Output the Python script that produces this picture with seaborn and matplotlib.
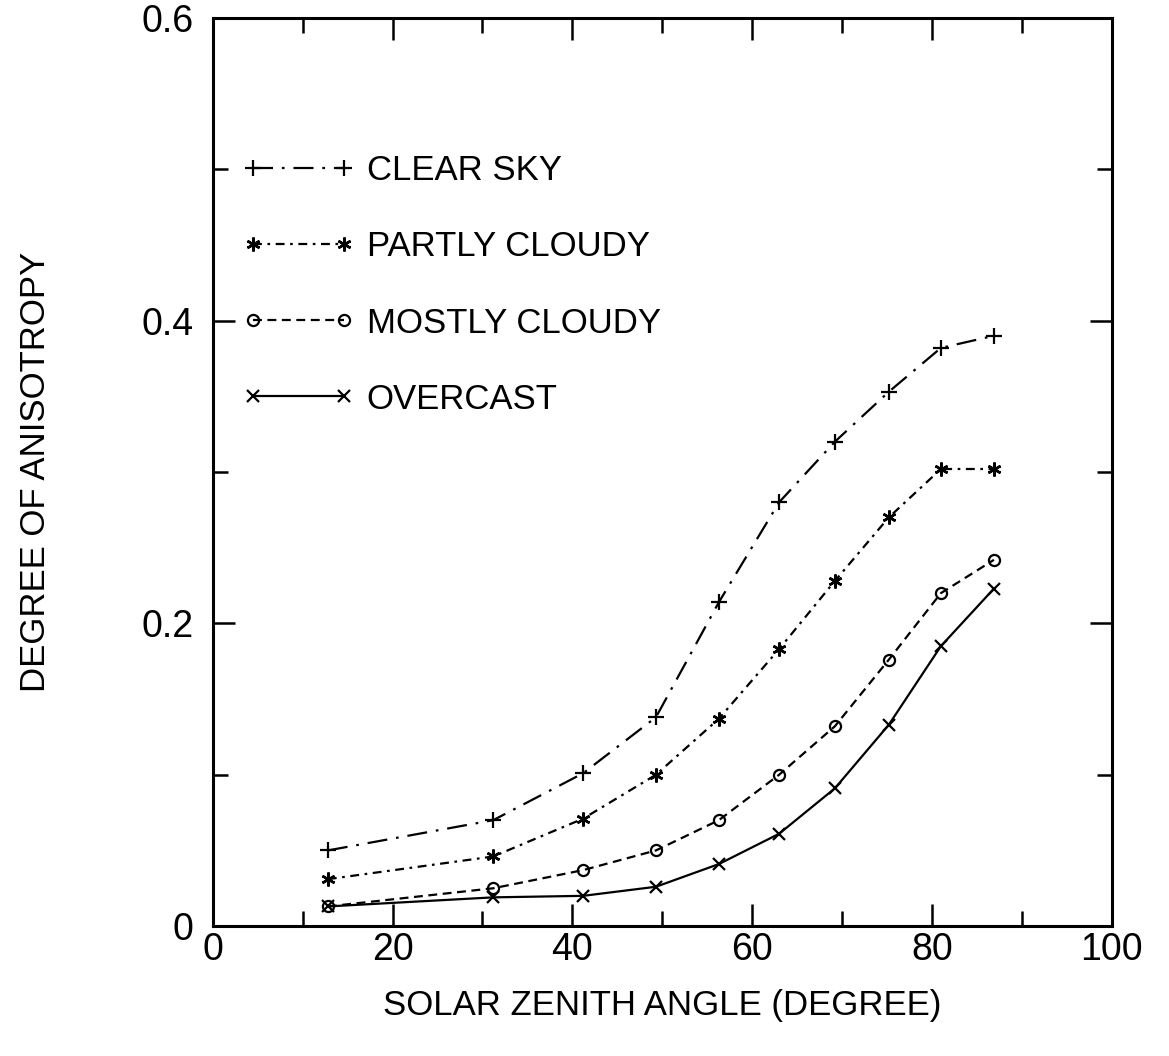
import matplotlib
matplotlib.use("Agg")
import matplotlib.pyplot as plt
from matplotlib.ticker import MultipleLocator
import numpy as np
import pandas as pd
import seaborn as sns

# Solar zenith angle (degrees)
zenith = [12.8, 31.2, 41.2, 49.3, 56.3, 63.0, 69.2, 75.2, 81.0, 86.9]

# Degree of anisotropy for each sky condition
clear_sky = [0.050, 0.070, 0.101, 0.138, 0.214, 0.280, 0.320, 0.353, 0.382, 0.390]
partly_cloudy = [0.031, 0.046, 0.071, 0.100, 0.137, 0.183, 0.228, 0.270, 0.302, 0.302]
mostly_cloudy = [0.013, 0.025, 0.037, 0.050, 0.070, 0.100, 0.132, 0.176, 0.220, 0.242]
overcast = [0.013, 0.019, 0.020, 0.026, 0.041, 0.061, 0.091, 0.133, 0.185, 0.223]

conditions = ["CLEAR SKY", "PARTLY CLOUDY", "MOSTLY CLOUDY", "OVERCAST"]
series = [clear_sky, partly_cloudy, mostly_cloudy, overcast]

x_ticks = [0, 20, 40, 60, 80, 100]
y_ticks = [0, 0.2, 0.4, 0.6]
y_tick_labels = ["0", "0.2", "0.4", "0.6"]

df = pd.DataFrame({
    "zenith": np.tile(zenith, len(conditions)),
    "anisotropy": np.concatenate(series),
    "sky": np.repeat(conditions, len(zenith)),
})

sns.set_theme(style="ticks")
plt.rcParams["font.family"] = ["Liberation Sans", "DejaVu Sans"]
plt.rcParams["text.color"] = "black"
plt.rcParams["axes.labelcolor"] = "black"
plt.rcParams["xtick.color"] = "black"
plt.rcParams["ytick.color"] = "black"

styles = {
    "CLEAR SKY": dict(marker="+", dashes=(9, 4, 1.2, 4), ms=11, mew=1.6),
    "PARTLY CLOUDY": dict(marker=(6, 2, 0), dashes=(4, 2.5, 1.2, 2.5), ms=10, mew=1.8),
    "MOSTLY CLOUDY": dict(marker="o", dashes=(4, 2.5), ms=8, mew=1.6),
    "OVERCAST": dict(marker="x", dashes="", ms=8, mew=1.6),
}

fig = plt.figure(figsize=(11.69, 10.56), dpi=100)
ax = fig.add_axes([0.182, 0.123, 0.769, 0.860])

for name in conditions:
    st = styles[name]
    sub = df[df["sky"] == name]
    sns.lineplot(data=sub, x="zenith", y="anisotropy", ax=ax, color="black",
                 linewidth=1.6, marker=st["marker"], markersize=st["ms"],
                 markeredgewidth=st["mew"], markerfacecolor="none",
                 markeredgecolor="black", label=name)
    line = ax.get_lines()[-1]
    if st["dashes"]:
        line.set_dashes(st["dashes"])
    else:
        line.set_linestyle("-")

ax.set_xlim(0, 100)
ax.set_ylim(0, 0.6)
ax.set_xticks(x_ticks)
ax.set_xticklabels([str(t) for t in x_ticks])
ax.set_yticks(y_ticks)
ax.set_yticklabels(y_tick_labels)
ax.xaxis.set_minor_locator(MultipleLocator(10))
ax.yaxis.set_minor_locator(MultipleLocator(0.1))
ax.tick_params(which="both", direction="in", top=True, right=True,
               colors="black", labelsize=27)
ax.tick_params(axis="x", which="both", pad=4)
ax.tick_params(axis="y", which="both", pad=14)
ax.tick_params(which="major", length=16, width=1.8)
ax.tick_params(which="minor", length=11, width=1.8)
for s in ax.spines.values():
    s.set_linewidth(2.2)
    s.set_color("black")

ax.set_xlabel("SOLAR ZENITH ANGLE (DEGREE)", fontsize=25, labelpad=15)
ax.set_ylabel("DEGREE OF ANISOTROPY", fontsize=25, labelpad=64)

leg = ax.legend(loc="upper left", bbox_to_anchor=(0.018, 0.865), numpoints=2,
                frameon=False, fontsize=25, handlelength=3.2, handletextpad=0.37,
                labelspacing=1.24, borderaxespad=0)

fig.savefig("out.png", dpi=100, facecolor="white")
